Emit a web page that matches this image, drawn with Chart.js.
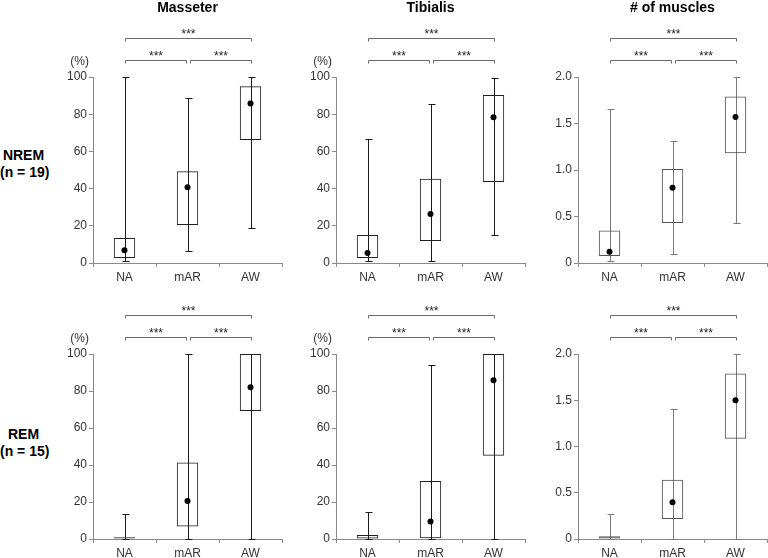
<!DOCTYPE html>
<html>
<head>
<meta charset="utf-8">
<script src="https://cdn.jsdelivr.net/npm/chart.js@4.4.1/dist/chart.umd.min.js"></script>
<style>
  html, body { margin: 0; padding: 0; background: #fff; width: 768px; height: 558px; overflow: hidden; }
  .panel { position: absolute; }
  .rowlabel { position: absolute; left: 0; width: 47px; text-align: center; white-space: nowrap; font: bold 14px Arial, 'Liberation Sans', sans-serif; line-height: 17px; color: #000; }
</style>
</head>
<body>
<div class="rowlabel" style="top:147px">NREM<br>(n = 19)</div>
<div class="rowlabel" style="top:426px">REM<br>(n = 15)</div>
<div class="panel" style="left:48px;top:0"><canvas id="nremMasseter" width="238" height="285"></canvas></div>
<div class="panel" style="left:291px;top:0"><canvas id="nremTibialis" width="238" height="285"></canvas></div>
<div class="panel" style="left:533px;top:0"><canvas id="nremMuscles" width="238" height="285"></canvas></div>
<div class="panel" style="left:48px;top:285px"><canvas id="remMasseter" width="238" height="273"></canvas></div>
<div class="panel" style="left:291px;top:285px"><canvas id="remTibialis" width="238" height="273"></canvas></div>
<div class="panel" style="left:533px;top:285px"><canvas id="remMuscles" width="238" height="273"></canvas></div>
<script>
const categories = ['NA', 'mAR', 'AW'];

// whisker [min, max], box [q1, q3], median dot
const nremMasseterWhisker = [[1, 100], [6.3, 88.5], [18.6, 100]];
const nremMasseterBox = [[2.7, 13.4], [20.4, 49.3], [66.1, 95]];
const nremMasseterMedian = [6.8, 40.7, 85.7];

const nremTibialisWhisker = [[0.9, 66.8], [0.9, 85.5], [15, 99.5]];
const nremTibialisBox = [[2.7, 15], [11.8, 45.3], [43.5, 90.3]];
const nremTibialisMedian = [5.4, 26.3, 78.3];

const nremMusclesWhisker = [[0.02, 1.66], [0.1, 1.315], [0.43, 2.0]];
const nremMusclesBox = [[0.075, 0.35], [0.43, 1.01], [1.18, 1.79]];
const nremMusclesMedian = [0.12, 0.81, 1.57];

const remMasseterWhisker = [[0, 13.5], [0, 100], [0, 100]];
const remMasseterBox = [[0, 0.9], [6.8, 41.4], [69.2, 100]];
const remMasseterMedian = [null, 20.5, 82];

const remTibialisWhisker = [[0, 14.8], [0, 94], [0, 100]];
const remTibialisBox = [[0, 2.2], [0.4, 31.4], [45, 100]];
const remTibialisMedian = [null, 9.5, 85.8];

const remMusclesWhisker = [[0, 0.27], [0, 1.405], [0, 2.0]];
const remMusclesBox = [[0, 0.03], [0.216, 0.64], [1.085, 1.79]];
const remMusclesMedian = [null, 0.396, 1.5];

const percentTicks = [0, 20, 40, 60, 80, 100];
const percentTickLabels = ['0', '20', '40', '60', '80', '100'];
const countTicks = [0, 0.5, 1.0, 1.5, 2.0];
const countTickLabels = ['0', '0.5', '1.0', '1.5', '2.0'];

// significance brackets between categories
const sigPairs = [[0, 1], [1, 2], [0, 2]];
const sigLabels = ['***', '***', '***'];

const TICK_FONT = "Arial, 'Liberation Sans', sans-serif";
const AXIS_GREY = '#8a8a8a';

const panelDecor = {
    id: 'panelDecor',
    beforeDatasetsDraw(chart, args, opts) {
        const box = chart.data.datasets.find(d => d.whiskers);
        const x = chart.scales.x, y = chart.scales.y;
        const ctx = chart.ctx;
        ctx.save();
        ctx.strokeStyle = opts.whiskerColor;
        ctx.lineWidth = 1;
        box.whiskers.forEach(function (w, i) {
            const px = Math.round(x.getPixelForValue(i)) + 0.5;
            const lo = Math.round(y.getPixelForValue(w[0])) + 0.5;
            const hi = Math.round(y.getPixelForValue(w[1])) + 0.5;
            ctx.beginPath();
            ctx.moveTo(px, lo); ctx.lineTo(px, hi);
            ctx.moveTo(px - 3, hi); ctx.lineTo(px + 4, hi);
            ctx.moveTo(px - 3, lo); ctx.lineTo(px + 4, lo);
            ctx.stroke();
        });
        ctx.restore();
    },
    afterDraw(chart, args, opts) {
        const x = chart.scales.x;
        const area = chart.chartArea;
        const ctx = chart.ctx;
        ctx.save();
        // brackets
        sigPairs.forEach(function (p, k) {
            const span = p[1] - p[0];
            let x1 = Math.round(x.getPixelForValue(p[0])) + 0.5;
            let x2 = Math.round(x.getPixelForValue(p[1])) + 0.5;
            if (span === 1) {
                if (p[0] > 0) x1 += 2;
                if (p[1] < categories.length - 1) x2 -= 2;
            }
            const ly = Math.round(area.top - (span === 1 ? 17 : 39)) + 0.5;
            ctx.strokeStyle = '#6a6a6a';
            ctx.lineWidth = 1;
            ctx.beginPath();
            ctx.moveTo(x1, ly + 3); ctx.lineTo(x1, ly); ctx.lineTo(x2, ly); ctx.lineTo(x2, ly + 3);
            ctx.stroke();
            ctx.fillStyle = '#222';
            ctx.font = '12px Arial, sans-serif';
            ctx.textAlign = 'center';
            ctx.textBaseline = 'alphabetic';
            ctx.fillText(sigLabels[k], (x1 + x2) / 2, ly - 1);
        });
        if (opts.unit) {
            ctx.fillStyle = '#333';
            ctx.font = '12px ' + TICK_FONT;
            ctx.textAlign = 'right';
            ctx.textBaseline = 'middle';
            ctx.fillText(opts.unit, area.left - 4, area.top - 15);
        }
        if (opts.title) {
            ctx.fillStyle = '#000';
            ctx.font = 'bold 14px Arial, sans-serif';
            ctx.textAlign = 'center';
            ctx.textBaseline = 'middle';
            ctx.fillText(opts.title, (area.left + area.right) / 2, 8);
        }
        ctx.restore();
    }
};

function makePanel(id, cfg) {
    return new Chart(document.getElementById(id), {
        type: 'bar',
        data: {
            labels: categories,
            datasets: [{
                type: 'line',
                data: cfg.median,
                showLine: false,
                pointRadius: 3,
                pointBackgroundColor: '#000',
                pointBorderWidth: 0,
                order: 0
            }, {
                type: 'bar',
                data: cfg.box,
                whiskers: cfg.whisker,
                backgroundColor: 'rgba(0,0,0,0)',
                borderColor: cfg.boxColor,
                borderWidth: 1,
                borderSkipped: false,
                barPercentage: 0.34,
                categoryPercentage: 1,
                order: 1
            }]
        },
        options: {
            responsive: false,
            animation: false,
            layout: { padding: { top: cfg.top, right: 2, left: 0, bottom: 0 } },
            plugins: {
                legend: { display: false },
                tooltip: { enabled: false },
                panelDecor: { title: cfg.title, unit: cfg.unit, whiskerColor: cfg.whiskerColor }
            },
            scales: {
                x: {
                    grid: { drawOnChartArea: false, tickLength: 4, color: AXIS_GREY },
                    border: { color: AXIS_GREY },
                    ticks: { color: '#333', padding: 3, font: { family: TICK_FONT, size: 12 } },
                    afterFit: function (s) {
                        s.height = cfg.xHeight;
                        s.paddingLeft = 0; s.paddingRight = 0;
                    }
                },
                y: {
                    min: 0,
                    max: cfg.ticks[cfg.ticks.length - 1],
                    grid: { drawOnChartArea: false, tickLength: 4, color: AXIS_GREY },
                    border: { color: AXIS_GREY },
                    afterBuildTicks: function (s) {
                        s.ticks = cfg.ticks.map(v => ({ value: v }));
                    },
                    ticks: {
                        color: '#333',
                        padding: 2,
                        font: { family: TICK_FONT, size: 12 },
                        callback: function (v) {
                            return cfg.tickLabels[cfg.ticks.indexOf(v)];
                        }
                    },
                    afterFit: function (s) {
                        s.width = 45;
                        s.paddingTop = 0; s.paddingBottom = 0;
                    }
                }
            }
        },
        plugins: [panelDecor]
    });
}

const dark = { whiskerColor: '#1a1a1a', boxColor: '#222' };
const light = { whiskerColor: '#7a7a7a', boxColor: '#555' };

makePanel('nremMasseter', Object.assign({ title: 'Masseter', unit: '(%)', top: 77, xHeight: 22, whisker: nremMasseterWhisker, box: nremMasseterBox, median: nremMasseterMedian, ticks: percentTicks, tickLabels: percentTickLabels }, dark));
makePanel('nremTibialis', Object.assign({ title: 'Tibialis', unit: '(%)', top: 77, xHeight: 22, whisker: nremTibialisWhisker, box: nremTibialisBox, median: nremTibialisMedian, ticks: percentTicks, tickLabels: percentTickLabels }, dark));
makePanel('nremMuscles', Object.assign({ title: '# of muscles', unit: '', top: 77, xHeight: 22, whisker: nremMusclesWhisker, box: nremMusclesBox, median: nremMusclesMedian, ticks: countTicks, tickLabels: countTickLabels }, light));
makePanel('remMasseter', Object.assign({ title: '', unit: '(%)', top: 69, xHeight: 19, whisker: remMasseterWhisker, box: remMasseterBox, median: remMasseterMedian, ticks: percentTicks, tickLabels: percentTickLabels }, dark));
makePanel('remTibialis', Object.assign({ title: '', unit: '(%)', top: 69, xHeight: 19, whisker: remTibialisWhisker, box: remTibialisBox, median: remTibialisMedian, ticks: percentTicks, tickLabels: percentTickLabels }, dark));
makePanel('remMuscles', Object.assign({ title: '', unit: '', top: 69, xHeight: 19, whisker: remMusclesWhisker, box: remMusclesBox, median: remMusclesMedian, ticks: countTicks, tickLabels: countTickLabels }, light));
</script>
</body>
</html>
